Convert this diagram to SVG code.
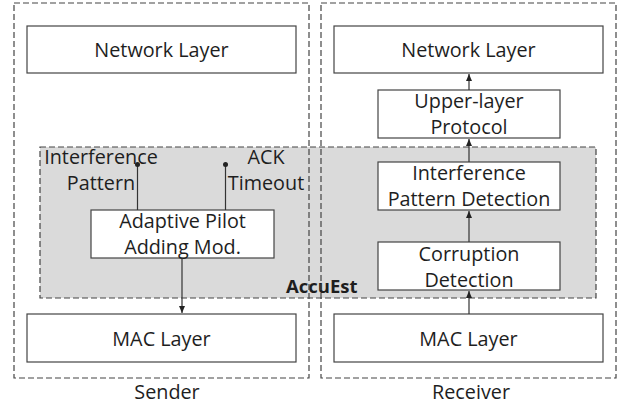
<svg xmlns="http://www.w3.org/2000/svg" width="633" height="407" viewBox="0 0 633 407">
  <style>
    .frame { fill: none; stroke: #444; stroke-width: 1.2; stroke-dasharray: 6 3; }
    .zone { fill: #dadada; stroke: #444; stroke-width: 1.2; stroke-dasharray: 6 3; }
    .box { fill: #fff; stroke: #444; stroke-width: 1.2; }
    .lbl { font-family: "Open Sans", "Liberation Sans", sans-serif; font-size: 19.8px; fill: #1e1e1e; text-anchor: middle; }
    .bold { font-size: 18.5px; font-weight: bold; text-anchor: start; }
    .link { stroke: #333; stroke-width: 1.2; fill: none; }
  </style>
  <defs>
    <marker id="arrow" markerWidth="8" markerHeight="8" refX="7" refY="4" orient="auto" markerUnits="userSpaceOnUse">
      <path d="M0,1 L7,4 L0,7 Z" fill="#222"/>
    </marker>
  </defs>
  <rect width="633" height="407" fill="#fff"/>

  <!-- AccuEst module region -->
  <g id="accuest">
    <rect class="zone" x="40" y="147" width="556" height="151"/>
    <text class="lbl bold" x="286" y="293">AccuEst</text>
  </g>

  <!-- endpoint frames -->
  <g id="sender">
    <rect class="frame" x="14" y="3" width="295" height="375"/>
    <text class="lbl" x="167" y="399">Sender</text>
  </g>
  <g id="receiver">
    <rect class="frame" x="321" y="3" width="295" height="375"/>
    <text class="lbl" x="471" y="399">Receiver</text>
  </g>

  <!-- sender stack -->
  <g id="s-network">
    <rect class="box" x="27" y="26" width="269" height="47"/>
    <text class="lbl" x="161.5" y="57">Network Layer</text>
  </g>
  <g id="s-interference">
    <text class="lbl" x="101" y="164">Interference</text>
    <text class="lbl" x="101" y="190">Pattern</text>
  </g>
  <g id="s-ack">
    <text class="lbl" x="266" y="164">ACK</text>
    <text class="lbl" x="266" y="190">Timeout</text>
  </g>
  <g id="s-pilot">
    <rect class="box" x="91" y="210" width="183" height="48"/>
    <text class="lbl" x="182.5" y="228">Adaptive Pilot</text>
    <text class="lbl" x="182.5" y="254">Adding Mod.</text>
  </g>
  <g id="s-mac">
    <rect class="box" x="27" y="314" width="269" height="48"/>
    <text class="lbl" x="161.5" y="346">MAC Layer</text>
  </g>

  <!-- receiver stack -->
  <g id="r-network">
    <rect class="box" x="334" y="26" width="269" height="47"/>
    <text class="lbl" x="468.5" y="57">Network Layer</text>
  </g>
  <g id="r-upper">
    <rect class="box" x="378" y="90" width="182" height="48"/>
    <text class="lbl" x="469" y="108">Upper-layer</text>
    <text class="lbl" x="469" y="134">Protocol</text>
  </g>
  <g id="r-pattern">
    <rect class="box" x="378" y="162" width="182" height="48"/>
    <text class="lbl" x="469" y="180">Interference</text>
    <text class="lbl" x="469" y="206">Pattern Detection</text>
  </g>
  <g id="r-corruption">
    <rect class="box" x="378" y="242" width="182" height="48"/>
    <text class="lbl" x="469" y="261">Corruption</text>
    <text class="lbl" x="469" y="287">Detection</text>
  </g>
  <g id="r-mac">
    <rect class="box" x="334" y="314" width="269" height="48"/>
    <text class="lbl" x="468.5" y="346">MAC Layer</text>
  </g>

  <!-- connectors -->
  <g id="connectors">
    <line class="link" x1="137.5" y1="164.5" x2="137.5" y2="210"/>
    <circle cx="137.5" cy="164.5" r="2.5" fill="#222"/>
    <line class="link" x1="225.5" y1="164.5" x2="225.5" y2="210"/>
    <circle cx="225.5" cy="164.5" r="2.5" fill="#222"/>
    <line class="link" x1="182" y1="258" x2="182" y2="313" marker-end="url(#arrow)"/>
    <line class="link" x1="469" y1="314" x2="469" y2="291" marker-end="url(#arrow)"/>
    <line class="link" x1="469" y1="242" x2="469" y2="211" marker-end="url(#arrow)"/>
    <line class="link" x1="469" y1="162" x2="469" y2="139" marker-end="url(#arrow)"/>
    <line class="link" x1="469" y1="90" x2="469" y2="74" marker-end="url(#arrow)"/>
  </g>
</svg>
